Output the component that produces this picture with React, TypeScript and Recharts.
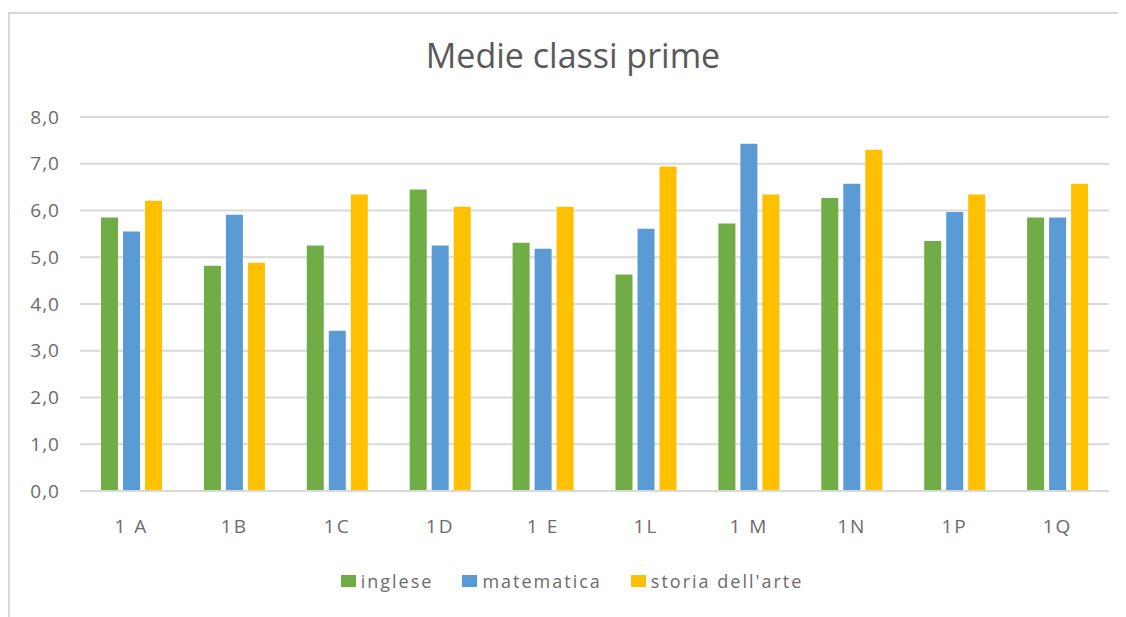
import { BarChart, Bar, XAxis, YAxis, CartesianGrid, Legend } from "recharts";

const classes = ["1 A", "1B", "1C", "1D", "1 E", "1L", "1 M", "1N", "1P", "1Q"];
const inglese = [5.85, 4.82, 5.25, 6.45, 5.31, 4.63, 5.72, 6.27, 5.35, 5.85];
const matematica = [5.55, 5.91, 3.43, 5.25, 5.18, 5.61, 7.43, 6.57, 5.97, 5.85];
const storiaArte = [6.21, 4.88, 6.34, 6.08, 6.08, 6.94, 6.34, 7.3, 6.34, 6.57];
const yTicks = [0, 1, 2, 3, 4, 5, 6, 7, 8];

const series = [
  { key: "inglese", color: "#70AD47" },
  { key: "matematica", color: "#5B9BD5" },
  { key: "storia dell'arte", color: "#FFC000" },
];

const data = classes.map((c, i) => ({
  name: c,
  inglese: inglese[i],
  matematica: matematica[i],
  "storia dell'arte": storiaArte[i],
}));

const font = "'Open Sans', 'Noto Sans', sans-serif";
const grey = "#6b6b6b";

// legend drawn by hand so the spacing matches
const renderLegend = () => (
  <div
    style={{
      display: "flex",
      justifyContent: "center",
      gap: 29,
      fontFamily: font,
      fontSize: 18,
      letterSpacing: 2,
      color: grey,
      height: 24,
      alignItems: "center",
      paddingLeft: 10,
    }}
  >
    {series.map((s) => (
      <div key={s.key} style={{ display: "flex", alignItems: "center" }}>
        <span style={{ display: "inline-block", width: 15, height: 12, background: s.color, marginRight: 5 }} />
        <span>{s.key}</span>
      </div>
    ))}
  </div>
);

const App = () => {
  return (
    <div style={{ position: "relative", width: 1118, height: 609 }}>
      <div
        style={{
          position: "absolute",
          left: 0,
          top: 4,
          width: 1118,
          height: 605,
          borderTop: "2px solid #d9d9d9",
          borderLeft: "2px solid #d9d9d9",
          boxSizing: "border-box",
        }}
      />
      <div
        style={{
          position: "absolute",
          left: 0,
          top: 24,
          width: 1130,
          textAlign: "center",
          fontFamily: font,
          fontSize: 34,
          color: "#595959",
        }}
      >
        Medie classi prime
      </div>
      <div style={{ position: "absolute", left: 0, top: 0 }}>
        <BarChart
          width={1118}
          height={609}
          data={data}
          margin={{ top: 109, right: 17, bottom: 62, left: 0 }}
          barSize={17}
          barGap={5}
        >
          <CartesianGrid vertical={false} stroke="#d9d9d9" strokeWidth={2} />
          <XAxis
            dataKey="name"
            axisLine={{ stroke: "#d9d9d9", strokeWidth: 2 }}
            tickLine={false}
            tickSize={0}
            tickMargin={29}
            tick={{ fill: grey, fontSize: 19, fontFamily: font, letterSpacing: 2 }}
            height={40}
          />
          <YAxis
            domain={[0, 8]}
            ticks={yTicks}
            tickFormatter={(v: number) => v.toFixed(1).replace(".", ",")}
            axisLine={false}
            tickLine={false}
            tickSize={0}
            tickMargin={20}
            width={72}
            tick={{ fill: grey, fontSize: 19, fontFamily: font, letterSpacing: 1 }}
          />
          <Legend content={renderLegend} wrapperStyle={{ top: 561, left: 0, width: 1118, height: 24 }} />
          {series.map((s) => (
            <Bar key={s.key} dataKey={s.key} fill={s.color} isAnimationActive={false} />
          ))}
        </BarChart>
      </div>
    </div>
  );
};

export default App;
